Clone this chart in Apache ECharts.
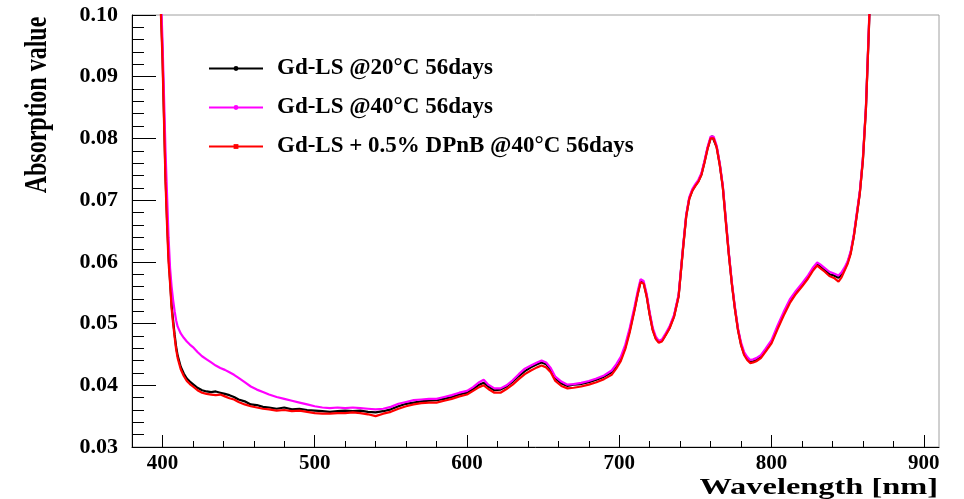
<!DOCTYPE html>
<html>
<head>
<meta charset="utf-8">
<script src="https://cdn.jsdelivr.net/npm/echarts@6/dist/echarts.min.js"></script>
<style>
  html, body { margin: 0; padding: 0; background: #fff; }
  #chart { width: 964px; height: 499px; }
</style>
</head>
<body>
<div id="chart"></div>
<script>
// wavelength grid (nm)
var wavelength = [
  398, 399, 400, 401, 402, 403, 404, 405, 406, 407, 408, 409, 410,
  412, 414, 416, 418, 420,
  423, 426, 429, 432, 435, 438, 441, 444, 447, 450,
  454, 458, 462, 466, 470,
  475, 480, 485, 490, 495, 500, 505, 510, 515, 520, 525, 530, 535, 540, 545, 550, 555, 560, 565, 570, 575, 580, 585, 590, 595, 600,
  604, 608, 611, 614, 618, 622, 626, 630, 634, 638, 642, 646, 649, 652, 655, 658, 662, 666, 670,
  675, 680, 685, 690, 695,
  698, 701, 704, 707, 710,
  712, 714, 715, 716, 718, 720, 722, 724, 726, 728, 730,
  733, 736, 739, 742,
  744, 746, 748, 750, 752, 754, 756, 758, 760,
  761, 762,
  764, 766, 768, 770, 772, 774, 776, 778, 780, 782, 784, 786, 788, 790,
  793, 796,
  800, 804, 808, 812, 816, 820, 824,
  827, 830, 832, 835, 838, 841, 844,
  846, 848, 850, 852, 854, 856, 858, 860, 862, 864, 866
];

// Gd-LS @20°C 56days
var absorb20 = [
  0.125, 0.101, 0.094, 0.084, 0.074, 0.067, 0.061, 0.057, 0.053, 0.0505, 0.0482, 0.0462, 0.0448,
  0.0430, 0.0419, 0.0411, 0.0406, 0.0402,
  0.0396, 0.0392, 0.0390, 0.0389, 0.0390, 0.0388, 0.0386, 0.0384, 0.0381, 0.0377,
  0.0374, 0.0369, 0.0368, 0.0365, 0.0364,
  0.0362, 0.0364, 0.0361, 0.0362, 0.0360, 0.0359, 0.0358, 0.0357, 0.0358, 0.0359, 0.0358, 0.0359, 0.0357, 0.0356, 0.0358, 0.0361, 0.0366, 0.0370, 0.0372, 0.0374, 0.0375, 0.0376, 0.0378, 0.0381, 0.0385, 0.0388,
  0.0394, 0.0401, 0.0404, 0.0398, 0.0392, 0.0393, 0.0398, 0.0406, 0.0415, 0.0423, 0.0429, 0.0434, 0.0437, 0.0434, 0.0425, 0.0411, 0.0403, 0.0399, 0.0401,
  0.0402, 0.0405, 0.0409, 0.0414, 0.0421,
  0.0430, 0.0442, 0.0462, 0.0490, 0.0523,
  0.0547, 0.0568, 0.0571, 0.0566, 0.0545, 0.0515, 0.0490, 0.0476, 0.0470, 0.0472, 0.0480,
  0.0493, 0.0512, 0.0545, 0.0625,
  0.0675, 0.0703, 0.0716, 0.0724, 0.0731, 0.0742, 0.0762, 0.0784, 0.0800,
  0.0804, 0.0801,
  0.0786, 0.0758, 0.0722, 0.0667, 0.0612, 0.0564, 0.0524, 0.0490, 0.0466, 0.0451, 0.0443, 0.0438, 0.0439, 0.0441,
  0.0446, 0.0456,
  0.0470, 0.0494, 0.0516, 0.0536, 0.0550, 0.0562, 0.0575,
  0.0587, 0.0596, 0.0593, 0.0587, 0.0580, 0.0578, 0.0574,
  0.0580, 0.0588, 0.0599, 0.0615, 0.0641, 0.0676, 0.0712, 0.0765, 0.0848, 0.0980, 0.1130
];

// Gd-LS @40°C 56days
var absorb40 = [
  0.127, 0.103, 0.096, 0.087, 0.078, 0.071, 0.064, 0.0590, 0.0560, 0.0538, 0.0520, 0.0505, 0.0495,
  0.0484, 0.0477, 0.0471, 0.0466, 0.0462,
  0.0454, 0.0447, 0.0442, 0.0437, 0.0432, 0.0428, 0.0425, 0.0421, 0.0417, 0.0412,
  0.0405, 0.0398, 0.0393, 0.0389, 0.0385,
  0.0381, 0.0378, 0.0375, 0.0372, 0.0369, 0.0366, 0.0364, 0.0363, 0.0364, 0.0363, 0.0364, 0.0363, 0.0362, 0.0361, 0.0362, 0.0365, 0.0370, 0.0373, 0.0376, 0.0377, 0.0378, 0.0378, 0.0381, 0.0384, 0.0388, 0.0391,
  0.0397, 0.0405, 0.0409, 0.0401, 0.0395, 0.0395, 0.0400, 0.0408, 0.0418, 0.0427, 0.0432, 0.0437, 0.0440, 0.0437, 0.0428, 0.0414, 0.0406, 0.0401, 0.0402,
  0.0404, 0.0407, 0.0411, 0.0416, 0.0424,
  0.0434, 0.0446, 0.0466, 0.0494, 0.0527,
  0.0551, 0.0572, 0.0575, 0.0569, 0.0548, 0.0518, 0.0493, 0.0479, 0.0472, 0.0474, 0.0482,
  0.0495, 0.0514, 0.0547, 0.0627,
  0.0677, 0.0705, 0.0718, 0.0726, 0.0733, 0.0744, 0.0764, 0.0786, 0.0803,
  0.0806, 0.0803,
  0.0788, 0.0760, 0.0724, 0.0669, 0.0614, 0.0566, 0.0526, 0.0492, 0.0469, 0.0454, 0.0446, 0.0441, 0.0442, 0.0444,
  0.0449, 0.0459,
  0.0473, 0.0497, 0.0519, 0.0539, 0.0553, 0.0565, 0.0578,
  0.0590, 0.0599, 0.0596, 0.0590, 0.0584, 0.0581, 0.0578,
  0.0583, 0.0591, 0.0601, 0.0617, 0.0643, 0.0679, 0.0714, 0.0768, 0.0851, 0.0985, 0.1140
];

// Gd-LS + 0.5% DPnB @40°C 56days
var absorbDPnB = [
  0.125, 0.100, 0.093, 0.083, 0.073, 0.066, 0.060, 0.0565, 0.0525, 0.0500, 0.0478, 0.0458, 0.0444,
  0.0426, 0.0415, 0.0407, 0.0402, 0.0398,
  0.0392, 0.0388, 0.0386, 0.0385, 0.0384, 0.0385, 0.0382, 0.0379, 0.0377, 0.0373,
  0.0369, 0.0366, 0.0364, 0.0362, 0.0361,
  0.0359, 0.0360, 0.0358, 0.0359, 0.0357, 0.0355, 0.0354, 0.0354, 0.0355, 0.0355, 0.0356, 0.0355, 0.0353, 0.0350, 0.0354, 0.0357, 0.0362, 0.0366, 0.0369, 0.0371, 0.0372, 0.0372, 0.0375, 0.0378, 0.0382, 0.0385,
  0.0391, 0.0397, 0.0400, 0.0394, 0.0388, 0.0388, 0.0394, 0.0401, 0.0410, 0.0418, 0.0424, 0.0429, 0.0432, 0.0429, 0.0421, 0.0407, 0.0399, 0.0395, 0.0396,
  0.0398, 0.0401, 0.0405, 0.0410, 0.0417,
  0.0427, 0.0439, 0.0459, 0.0487, 0.0521,
  0.0546, 0.0567, 0.0570, 0.0565, 0.0544, 0.0514, 0.0489, 0.0475, 0.0469, 0.0471, 0.0479,
  0.0492, 0.0511, 0.0544, 0.0624,
  0.0674, 0.0702, 0.0715, 0.0723, 0.0730, 0.0741, 0.0761, 0.0783, 0.0800,
  0.0803, 0.0800,
  0.0785, 0.0757, 0.0721, 0.0664, 0.0611, 0.0563, 0.0523, 0.0489, 0.0465, 0.0449, 0.0441, 0.0436, 0.0437, 0.0439,
  0.0444, 0.0454,
  0.0468, 0.0491, 0.0513, 0.0533, 0.0548, 0.0560, 0.0573,
  0.0585, 0.0594, 0.0590, 0.0584, 0.0577, 0.0574, 0.0568,
  0.0575, 0.0586, 0.0597, 0.0613, 0.0640, 0.0675, 0.0711, 0.0764, 0.0847, 0.0980, 0.1130
];

var seriesNames = ['Gd-LS @20°C 56days', 'Gd-LS @40°C 56days', 'Gd-LS + 0.5% DPnB @40°C 56days'];
var xMajorTicks = [400, 500, 600, 700, 800, 900];
var xMinorTicks = [420, 440, 460, 480, 520, 540, 560, 580, 620, 640, 660, 680,
                   720, 740, 760, 780, 820, 840, 860, 880];

var FONT = '"Liberation Serif", "Times New Roman", serif';

var toPairs = function (ys) {
    var out = [];
    for (var i = 0; i < wavelength.length; i++) {
        out.push([wavelength[i], ys[i]]);
    }
    return out;
};

var makeSeries = function (name, ys, color, symbol) {
    return {
        name: name,
        type: 'line',
        data: toPairs(ys),
        showSymbol: false,
        symbol: symbol,
        symbolSize: 5,
        clip: true,
        lineStyle: { color: color, width: 2.2 },
        itemStyle: { color: color, borderWidth: 0 },
        emphasis: { disabled: true }
    };
};

var chart = echarts.init(document.getElementById('chart'));
var option = {
    animation: false,
    backgroundColor: '#fff',
    grid: {
        left: 132, right: 25, top: 15, bottom: 52,
        show: true, borderColor: '#a0a0a0', borderWidth: 1
    },
    legend: {
        orient: 'vertical',
        left: 203, top: 52,
        itemWidth: 54, itemHeight: 6, itemGap: 16,
        data: seriesNames,
        itemStyle: { borderWidth: 0 },
        textStyle: {
            fontFamily: FONT, fontWeight: 'bold', fontSize: 23, color: '#000',
            padding: [0, 0, 0, 9]
        }
    },
    xAxis: [{
        type: 'value', position: 'bottom',
        min: 380, max: 910,
        axisLine: { lineStyle: { color: '#000', width: 1 } },
        axisTick: { inside: true, length: 12, customValues: xMajorTicks, lineStyle: { color: '#000' } },
        axisLabel: {
            customValues: xMajorTicks, margin: 6,
            fontFamily: FONT, fontWeight: 'bold', fontSize: 21, color: '#000'
        },
        splitLine: { show: false }
    }, {
        type: 'value', position: 'bottom',
        min: 380, max: 910,
        axisLine: { show: false },
        axisTick: { inside: true, length: 6, customValues: xMinorTicks, lineStyle: { color: '#000' } },
        axisLabel: { show: false },
        splitLine: { show: false }
    }],
    yAxis: {
        type: 'value',
        min: 0.03, max: 0.10, interval: 0.01,
        axisLine: { show: true, lineStyle: { color: '#000', width: 1 } },
        axisTick: { show: true, inside: true, length: 24, lineStyle: { color: '#000' } },
        minorTick: { show: true, splitNumber: 5, length: 12, lineStyle: { color: '#000' } },
        axisLabel: {
            margin: 14,
            fontFamily: FONT, fontWeight: 'bold', fontSize: 22, color: '#000',
            formatter: function (v) { return v.toFixed(2); }
        },
        splitLine: { show: false }
    },
    graphic: [{
        type: 'text',
        x: 938, y: 488, scaleX: 1.35,
        style: {
            text: 'Wavelength [nm]', fill: '#000',
            font: 'bold 24px ' + FONT, align: 'right', verticalAlign: 'middle'
        }
    }, {
        type: 'text',
        x: 38, y: 105, rotation: Math.PI / 2, scaleY: 1.35,
        style: {
            text: 'Absorption value', fill: '#000',
            font: 'bold 24px ' + FONT, align: 'center', verticalAlign: 'middle'
        }
    }],
    series: [
        makeSeries(seriesNames[0], absorb20, '#000000', 'circle'),
        makeSeries(seriesNames[1], absorb40, '#ff00ff', 'circle'),
        makeSeries(seriesNames[2], absorbDPnB, '#ff0000', 'rect')
    ]
};
chart.setOption(option);
</script>
</body>
</html>
